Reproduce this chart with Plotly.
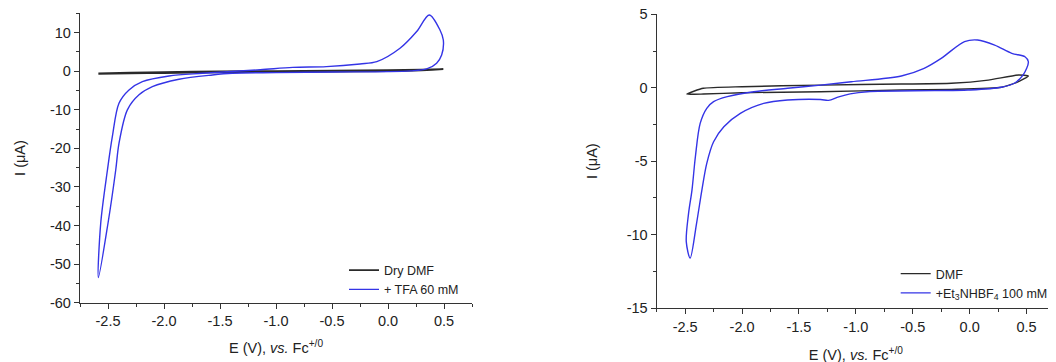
import plotly.graph_objects as go

W, H = 1056, 362
OX, OY = 8, 8  # page body margin of the html page

# ---------------- Left panel data (TFA) ----------------
dry_dmf_E = [-2.586, -2.3, -2.0, -1.5, -1.0, -0.5, 0.0, 0.3, 0.494,
             0.3, 0.0, -0.5, -1.0, -1.5, -2.0, -2.3, -2.586]
dry_dmf_I = [-0.55, -0.35, -0.2, -0.05, 0.05, 0.15, 0.3, 0.4, 0.55,
             0.25, 0.05, -0.1, -0.2, -0.3, -0.45, -0.55, -0.7]

tfa_E = [0.345, 0.2, 0.0, -0.5, -1.0, -1.39, -1.568, -1.866, -2.104, -2.223,
         -2.327, -2.402, -2.431, -2.5, -2.586,
         -2.565, -2.505, -2.461, -2.402, -2.3125, -2.193, -1.955, -1.657,
         -1.14, -0.85, -0.55, -0.25, -0.1, 0.107, 0.256, 0.369,
         0.464, 0.494, 0.479, 0.434, 0.345]
tfa_I = [0.6, 0.1, -0.1, -0.2, -0.35, -0.52, -0.96, -2.07, -4.0, -6.1,
         -10.0, -18.7, -25.6, -39.4, -53.5,
         -39.4, -25.6, -16.9, -8.3, -4.84, -2.7, -1.22, -0.52,
         0.4, 1.0, 1.2, 1.9, 2.5, 5.96, 10.3, 14.6,
         10.7, 8.1, 4.2, 2.1, 0.6]

# ---------------- Right panel data (Et3NHBF4) ----------------
dmf_E = [-2.485, -2.34, -2.0, -1.31, -0.60, -0.16, 0.163, 0.43, 0.516,
         0.43, 0.28, -0.16, -0.60, -1.31, -2.0, -2.34, -2.485]
dmf_I = [-0.43, -0.04, 0.07, 0.18, 0.25, 0.3, 0.52, 0.87, 0.8,
         0.41, 0.03, -0.11, -0.16, -0.27, -0.34, -0.43, -0.43]

et_E = [-2.456, -2.40, -2.353, -2.31, -2.25, -2.16, -2.015, -1.81, -1.60,
        -1.31, -1.24, -1.15, -1.05, -0.9, -0.31, -0.015, 0.28, 0.4, 0.47, 0.516,
        0.486, 0.37, 0.22, 0.07, -0.045, -0.25, -0.40, -0.60, -1.04, -1.31,
        -1.60, -1.897, -2.13, -2.25, -2.31, -2.368, -2.41, -2.44, -2.47, -2.49,
        -2.456]
et_I = [-11.6, -9.25, -6.97, -5.15, -3.68, -2.66, -1.75, -1.07, -0.84,
        -0.8, -0.86, -0.62, -0.42, -0.27, -0.2, -0.16, 0.03, 0.34, 0.87, 1.77,
        2.11, 2.34, 2.9, 3.25, 3.14, 2.0, 1.32, 0.8, 0.41, 0.18,
        -0.04, -0.27, -0.61, -0.95, -1.4, -2.43, -4.7, -6.97, -8.56, -10.5,
        -11.6]

# ---------------- Ticks ----------------
x_tickvals = [-2.5, -2.0, -1.5, -1.0, -0.5, 0.0, 0.5]
x_ticktext = ["-2.5", "-2.0", "-1.5", "-1.0", "-0.5", "0.0", "0.5"]
x_minor = [-2.75, -2.25, -1.75, -1.25, -0.75, -0.25, 0.25, 0.75]
y1_tickvals = [-60, -50, -40, -30, -20, -10, 0, 10]
y1_ticktext = ["-60", "-50", "-40", "-30", "-20", "-10", "0", "10"]
y1_minor = [-55, -45, -35, -25, -15, -5, 5, 15]
y2_tickvals = [-15, -10, -5, 0, 5]
y2_ticktext = ["-15", "-10", "-5", "0", "5"]
y2_minor = [-12.5, -7.5, -2.5, 2.5]

BLUE = "#3434e6"
BLACK = "#2a2a2a"
FONT = "Liberation Sans, Arial, sans-serif"


def px_x(p):
    return (p - OX) / W


def px_y(p):
    return 1 - (p - OY) / H


fig = go.Figure()
fig.add_trace(go.Scatter(x=dry_dmf_E, y=dry_dmf_I, mode="lines", name="Dry DMF",
                         line=dict(color=BLACK, width=1.8, shape="spline", smoothing=0.5),
                         xaxis="x", yaxis="y", legend="legend"))
fig.add_trace(go.Scatter(x=tfa_E, y=tfa_I, mode="lines", name="+ TFA 60 mM",
                         line=dict(color=BLUE, width=1.4, shape="spline", smoothing=0.9),
                         xaxis="x", yaxis="y", legend="legend"))
fig.add_trace(go.Scatter(x=dmf_E, y=dmf_I, mode="lines", name="DMF",
                         line=dict(color=BLACK, width=1.4, shape="spline", smoothing=0.5),
                         xaxis="x2", yaxis="y2", legend="legend2"))
fig.add_trace(go.Scatter(x=et_E, y=et_I, mode="lines",
                         name="+Et<sub>3</sub>NHBF<sub>4</sub> 100 mM",
                         line=dict(color=BLUE, width=1.4, shape="spline", smoothing=0.9),
                         xaxis="x2", yaxis="y2", legend="legend2"))

axis_common = dict(showgrid=False, zeroline=False, showline=True, linecolor="#333",
                   linewidth=1.3, ticks="outside", ticklen=5, tickwidth=1.2,
                   tickcolor="#333", tickfont=dict(family=FONT, size=14.5, color="#222"),
                   tickmode="array", mirror=False, automargin=False,
                   ticklabeloverflow="allow")

xt_text = "E (V), <i>vs.</i> Fc<sup>+/0</sup>"
yt_text = "I (\u03bcA)"
tfont = dict(family=FONT, size=14.5, color="#222")

minor_x = dict(tickmode="array", tickvals=x_minor, ticks="outside", ticklen=3,
               tickwidth=1.1, tickcolor="#333")

fig.update_layout(
    width=W, height=H, margin=dict(l=0, r=0, t=0, b=0, autoexpand=False),
    paper_bgcolor="white", plot_bgcolor="white",
    font=dict(family=FONT, color="#222"),
    xaxis=dict(domain=[px_x(80), px_x(472)], range=[-2.75, 0.75], anchor="y",
               tickvals=x_tickvals, ticktext=x_ticktext, minor=minor_x,
               title=dict(text=xt_text, font=tfont, standoff=14), **axis_common),
    yaxis=dict(domain=[px_y(302.7), px_y(13.4)], range=[-60, 15], anchor="x",
               tickvals=y1_tickvals, ticktext=y1_ticktext,
               minor=dict(tickmode="array", tickvals=y1_minor, ticks="outside",
                          ticklen=3, tickwidth=1.1, tickcolor="#333"),
               title=dict(text=yt_text, font=tfont, standoff=20), **axis_common),
    xaxis2=dict(domain=[px_x(656.7), px_x(1055)], range=[-2.75, 0.75], anchor="y2",
                tickvals=x_tickvals, ticktext=x_ticktext, minor=minor_x,
                title=dict(text=xt_text, font=tfont, standoff=16), **axis_common),
    yaxis2=dict(domain=[px_y(308), px_y(14.3)], range=[-15, 5], anchor="x2",
                tickvals=y2_tickvals, ticktext=y2_ticktext,
                minor=dict(tickmode="array", tickvals=y2_minor, ticks="outside",
                           ticklen=3, tickwidth=1.1, tickcolor="#333"),
                title=dict(text=yt_text, font=tfont, standoff=25), **axis_common),
    legend=dict(x=px_x(344), y=px_y(255.5), xanchor="left", yanchor="top",
                bgcolor="rgba(0,0,0,0)", borderwidth=0,
                font=dict(family=FONT, size=12.5, color="#222"),
                itemwidth=30, tracegroupgap=0),
    legend2=dict(x=px_x(895.7), y=px_y(259), xanchor="left", yanchor="top",
                 bgcolor="rgba(0,0,0,0)", borderwidth=0,
                 font=dict(family=FONT, size=12.5, color="#222"),
                 itemwidth=30, tracegroupgap=0),
    showlegend=True,
)

fig.write_html("out.html")
